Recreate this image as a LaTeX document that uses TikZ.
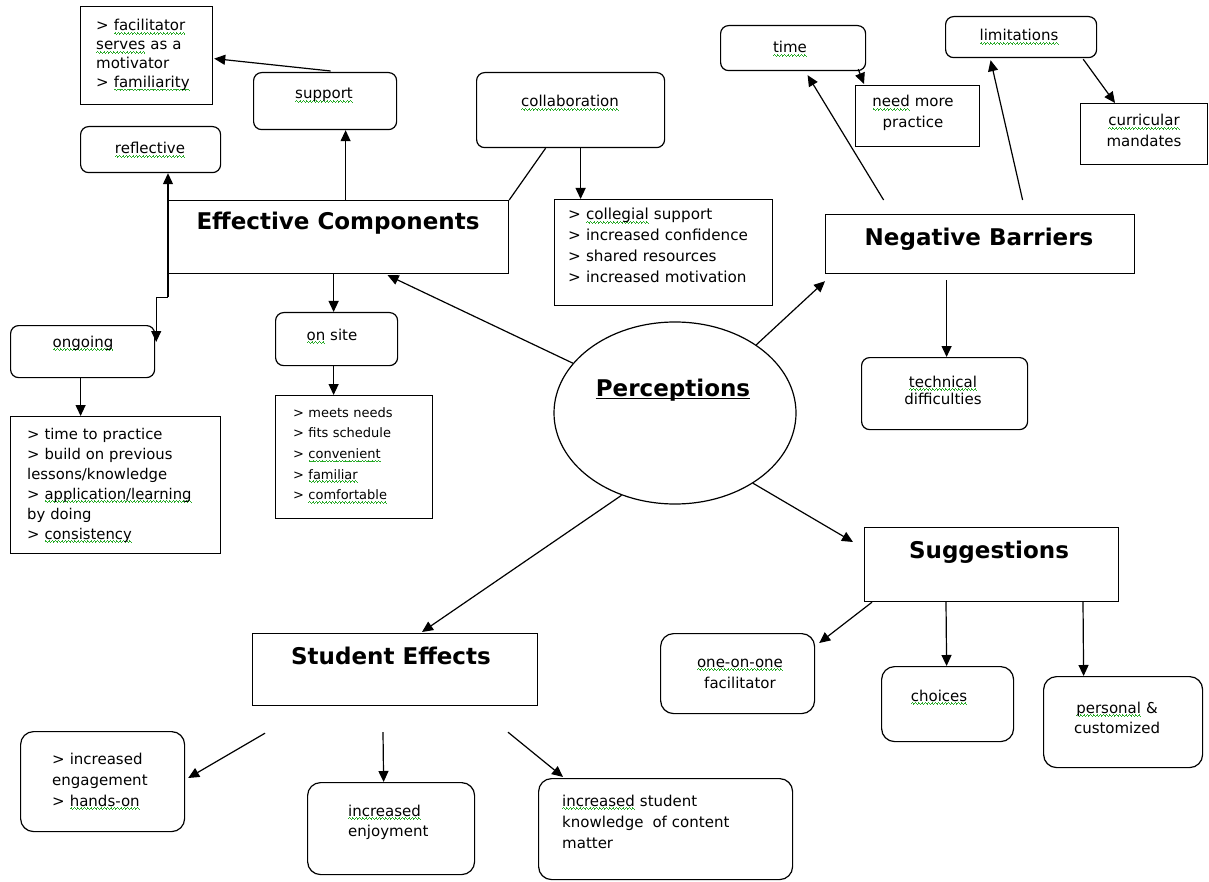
\documentclass[tikz,border=0pt]{standalone}
\usepackage{fontspec}
\setmainfont{DejaVu Sans}
\usetikzlibrary{arrows.meta,shapes.geometric,calc}
\definecolor{spell}{RGB}{40,170,40}
\newsavebox{\sqbox}
\newcommand{\sqpiece}{\hbox{\rule[-3pt]{0.8pt}{0.9pt}\rule[-2.2pt]{0.8pt}{0.9pt}\rule[-3pt]{0.8pt}{0.9pt}\rule[-3.8pt]{0.8pt}{0.9pt}}}
\newcommand{\sq}[1]{\leavevmode\sbox{\sqbox}{#1}\rlap{\color{spell}\hbox to \wd\sqbox{\xleaders\sqpiece\hfill}}\usebox{\sqbox}}
\begin{document}
\begin{tikzpicture}[x=1pt,y=-1pt,
  box/.style={draw, line width=1.2pt, inner sep=0pt, anchor=north west},
  rbox/.style={box, rounded corners=8pt},
  rrbox/.style={box, rounded corners=13pt},
  arr/.style={line width=1.2pt, -{Triangle[length=11pt,width=10pt]}},
  tx/.style={inner sep=0pt, font=\fontsize{15}{20}\selectfont},
  hd/.style={inner sep=0pt, font=\fontsize{23}{28}\selectfont\bfseries},
]
\useasboundingbox (0,0) rectangle (1209,882);

% ---------- boxes ----------
\node[box, minimum width=132pt, minimum height=98pt] (fac) at (80,6) {};
\node[rbox, minimum width=143pt, minimum height=57pt] (sup) at (253,72) {};
\node[rbox, minimum width=140pt, minimum height=46pt] (refl) at (80,126) {};
\node[rbox, minimum width=188pt, minimum height=75pt] (coll) at (476,72) {};
\node[box, minimum width=340pt, minimum height=73pt] (ec) at (168,200) {};
\node[box, minimum width=218pt, minimum height=106pt] (clist) at (554,199) {};
\node[box, minimum width=309pt, minimum height=59pt] (nb) at (825,214) {};
\node[rbox, minimum width=145pt, minimum height=45pt] (time) at (720,25) {};
\node[box, minimum width=124pt, minimum height=61pt] (nmp) at (855,85) {};
\node[rbox, minimum width=151pt, minimum height=41pt] (lim) at (945,16) {};
\node[box, minimum width=127pt, minimum height=61pt] (cur) at (1080,103) {};
\node[rbox, minimum width=144pt, minimum height=52pt] (ong) at (10,325) {};
\node[box, minimum width=210pt, minimum height=137pt] (olist) at (10,416) {};
\node[rbox, minimum width=122pt, minimum height=53pt] (os) at (275,312) {};
\node[box, minimum width=157pt, minimum height=123pt] (oslist) at (275,395) {};
\node[draw, line width=1.2pt, ellipse, inner sep=0pt, minimum width=242pt, minimum height=182pt] (perc) at (675,413) {};
\node[rbox, minimum width=166pt, minimum height=72pt] (tech) at (861,357) {};
\node[box, minimum width=254pt, minimum height=74pt] (sug) at (864,527) {};
\node[rrbox, minimum width=154pt, minimum height=80pt] (one) at (660,633) {};
\node[rrbox, minimum width=132pt, minimum height=75pt] (cho) at (881,666) {};
\node[rrbox, minimum width=159pt, minimum height=91pt] (pers) at (1043,676) {};
\node[box, minimum width=285pt, minimum height=72pt] (se) at (252,633) {};
\node[rrbox, minimum width=164pt, minimum height=100pt] (eng) at (20,731) {};
\node[rrbox, minimum width=167pt, minimum height=92pt] (enj) at (307,782) {};
\node[rrbox, minimum width=254pt, minimum height=101pt] (know) at (538,778) {};

% ---------- texts ----------
\node[tx, anchor=base west, text width=125pt, align=left, font=\fontsize{15}{18.8}\selectfont] (t-fac) at (96,31)
  {> \sq{facilitator}\\\sq{serves} as a\\motivator\\> \sq{familiarity}};
\node[tx, anchor=base] (t-sup) at (324,99) {\sq{support}};
\node[tx, anchor=base] (t-refl) at (150,154) {\sq{reflective}};
\node[tx, anchor=base] (t-coll) at (570,107) {\sq{collaboration}};
\node[hd, anchor=base] (t-ec) at (338,230) {Effective Components};
\node[tx, anchor=base west, text width=210pt, align=left, font=\fontsize{15.2}{21}\selectfont] (t-clist) at (568,220)
  {> \sq{collegial} support\\> increased confidence\\> shared resources\\> increased motivation};
\node[hd, anchor=base] (t-nb) at (979,246) {Negative Barriers};
\node[tx, anchor=base] (t-time) at (790,53) {\sq{time}};
\node[tx, anchor=base, text width=124pt, align=center, font=\fontsize{15}{21}\selectfont] (t-nmp) at (913,107)
  {\sq{need} more\\practice};
\node[tx, anchor=base] (t-lim) at (1019,41) {\sq{limitations}};
\node[tx, anchor=base, text width=127pt, align=center, font=\fontsize{15}{21}\selectfont] (t-cur) at (1144,126)
  {\sq{curricular}\\mandates};
\node[tx, anchor=base] (t-ong) at (83,347) {\sq{ongoing}};
\node[tx, anchor=base west, text width=200pt, align=left, font=\fontsize{14.8}{20}\selectfont] (t-olist) at (27,439)
  {> time to practice\\> build on previous\\lessons/knowledge\\> \sq{application/learning}\\by doing\\> \sq{consistency}};
\node[tx, anchor=base] (t-os) at (332,340) {\sq{on} site};
\node[tx, anchor=base west, text width=150pt, align=left, font=\fontsize{13}{20.7}\selectfont] (t-oslist) at (293,417)
  {> meets needs\\> fits schedule\\> \sq{convenient}\\> \sq{familiar}\\> \sq{comfortable}};
\node[hd, anchor=base] (t-perc) at (673,396) {Perceptions};
\draw[line width=1.8pt] ($(t-perc.base west)+(0,2.5)$) -- ($(t-perc.base east)+(0,2.5)$);
\node[tx, anchor=base, text width=166pt, align=center, font=\fontsize{15}{17}\selectfont] (t-tech) at (943,387)
  {\sq{technical}\\difficulties};
\node[hd, anchor=base] (t-sug) at (989,558) {Suggestions};
\node[tx, anchor=base, text width=154pt, align=center, font=\fontsize{15}{21}\selectfont] (t-one) at (740,667)
  {\sq{one-on-one}\\facilitator};
\node[tx, anchor=base] (t-cho) at (939,701) {\sq{choices}};
\node[tx, anchor=base, text width=159pt, align=center, font=\fontsize{15}{20}\selectfont] (t-pers) at (1117,713)
  {\sq{personal} \&\\customized};
\node[hd, anchor=base] (t-se) at (391,664) {Student Effects};
\node[tx, anchor=base west, text width=150pt, align=left, font=\fontsize{15}{21}\selectfont] (t-eng) at (52,764)
  {> increased\\engagement\\> \sq{hands-on}};
\node[tx, anchor=base west, text width=150pt, align=left, font=\fontsize{15}{20}\selectfont] (t-enj) at (348,816)
  {\sq{increased}\\enjoyment};
\node[tx, anchor=base west, text width=230pt, align=left, font=\fontsize{15}{21}\selectfont] (t-know) at (562,806)
  {\sq{increased} student\\knowledge\hspace{4pt} of content\\matter};

% ---------- free ends ----------
\coordinate (j1) at ($(ec.south west)+(0,23)$);
\coordinate (nbt) at ($(nb.north)+(-96.5,-14)$);
\coordinate (nbl) at ($(nb.north)+(42.5,-14)$);
\coordinate (nbb) at ($(nb.south)+(-33.5,6)$);
\coordinate (sef1) at ($(se.south west)+(13,27)$);
\coordinate (sef2) at ($(se.south west)+(131,26)$);
\coordinate (sef3) at ($(se.south west)+(256,26)$);

% ---------- connectors ----------
\draw[arr] ($(sup.north)+(5.5,-1)$) -- ($(fac.east)+(1,3)$);
\draw[arr] ($(ec.north)+(7,0)$) -- ($(sup.south)+(20.5,0)$);
\draw[arr] (j1) -- (j1 |- refl.south);
\draw[arr] (j1) -| ($(ong.north east)+(1,17)$);
\draw[line width=1.2pt] (ec.north east) -- ($(coll.south)+(-25,0)$);
\draw[arr] ($(coll.south)+(10,0)$) -- ($(clist.north)+(-83,0)$);
\draw[arr] ($(ec.south)+(-5,0)$) -- ($(os.north)+(-3,0)$);
\draw[arr] ($(os.south)+(-3,0)$) -- ($(oslist.north)+(-20.5,0)$);
\draw[arr] ($(ong.south)+(-2,0)$) -- ($(olist.north)+(-35,0)$);
\draw[arr] (perc.154) -- ($(ec.south)+(49,1)$);
\draw[arr] (perc.40) -- ($(nb.south west)+(0,7)$);
\draw[arr] (nbt) -- ($(time.south)+(14.5,4)$);
\draw[arr] (nbl) -- ($(lim.south)+(-30.5,2)$);
\draw[arr] ($(time.south east)+(-8,-2)$) -- ($(nmp.north west)+(9,-1)$);
\draw[arr] ($(lim.south east)+(-14,1)$) -- ($(cur.north west)+(35,0)$);
\draw[arr] (nbb) -- ($(tech.north)+(2,0)$);
\draw[arr] (perc.-42) -- ($(sug.north west)+(-11,15)$);
\draw[arr] (perc.237) -- ($(se.north west)+(170,-1)$);
\draw[arr] ($(sug.south west)+(8,0)$) -- ($(one.north east)+(4,10)$);
\draw[arr] ($(sug.south west)+(82,0)$) -- ($(cho.north)+(-1,0)$);
\draw[arr] ($(sug.south west)+(219,0)$) -- ($(pers.north)+(-39.5,0)$);
\draw[arr] (sef1) -- ($(eng.north east)+(3,47)$);
\draw[arr] (sef2) -- ($(enj.north)+(-7.5,0)$);
\draw[arr] (sef3) -- ($(know.north west)+(25,-1)$);
\end{tikzpicture}
\end{document}
